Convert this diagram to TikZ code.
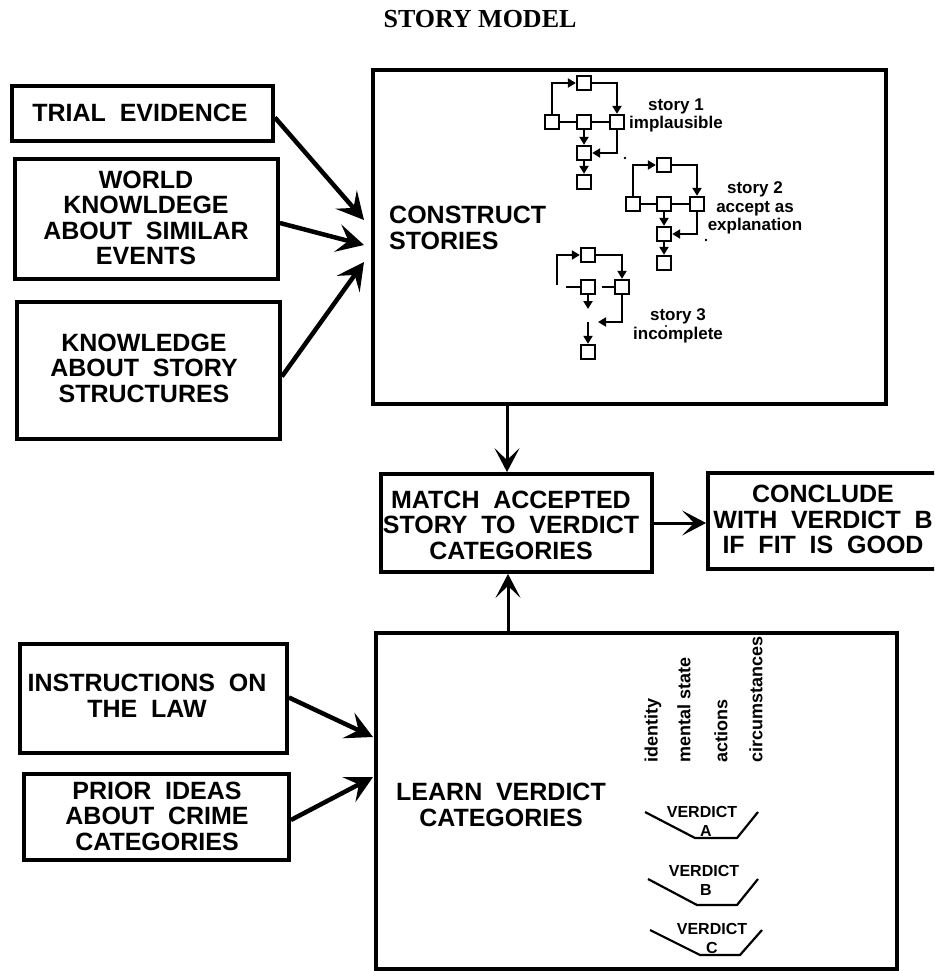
\documentclass[tikz,border=0pt]{standalone}
\usepackage{fontspec}
\setmainfont{Liberation Sans}
\newfontfamily\titlefamily{Liberation Serif}
\usetikzlibrary{arrows.meta}
\newcommand\fbig{\fontsize{25}{25.5}\selectfont\bfseries\spaceskip=0.55em\relax}
\newcommand\fstory{\fontsize{17}{18.5}\selectfont\bfseries}
\newcommand\fverd{\fontsize{16}{19}\selectfont\bfseries}
\newcommand\frot{\fontsize{18}{20}\selectfont\bfseries}
\newcommand\ftitle{\titlefamily\fontsize{26}{28}\selectfont\bfseries}
\begin{document}
\begin{tikzpicture}[x=1pt,y=-1pt,
  box/.style={draw, line width=3.8pt, inner sep=0pt},
  bigtext/.style={font=\fbig, align=center, inner sep=0pt},
  flow/.style={line width=4.5pt, -{Stealth[length=27pt,width=28pt,inset=11pt]}},
  vflow/.style={line width=3pt, -{Stealth[length=24pt,width=25pt,inset=12pt]}},
  sq/.style={draw, line width=2.3pt, minimum size=14pt, inner sep=0pt},
  slink/.style={line width=2pt},
  sarr/.style={line width=2pt, -{Triangle[length=8pt,width=9pt]}},
  slabel/.style={font=\fstory, align=center, inner sep=0pt},
  vlabel/.style={font=\frot, rotate=90, anchor=west, inner sep=0pt},
  vtext/.style={font=\fverd, inner sep=0pt},
  bowl/.style={line width=2.2pt, line join=round}
]
\clip (0,0) rectangle (934,971);
\fill[white] (0,0) rectangle (934,971);

% title
\node[font=\ftitle, inner sep=0pt] (title) at (480,19) {STORY MODEL};

% boxes
\node[box, minimum width=261pt, minimum height=55pt]  (trial)     at (142.5,113.5) {};
\node[box, minimum width=263pt, minimum height=120pt] (world)     at (146.5,219) {};
\node[box, minimum width=263pt, minimum height=137pt] (knowledge) at (148.5,370.5) {};
\node[box, minimum width=513pt, minimum height=334pt] (construct) at (629.5,237) {};
\node[box, minimum width=271pt, minimum height=98pt]  (match)     at (516.5,523) {};
\node[box, minimum width=237pt, minimum height=96pt]  (conclude)  at (826.5,521) {};
\node[box, minimum width=521pt, minimum height=336pt] (learn)     at (636.5,801) {};
\node[box, minimum width=267pt, minimum height=109pt] (instr)     at (153.5,698.5) {};
\node[box, minimum width=265pt, minimum height=86pt]  (prior)     at (156.5,817) {};

% box texts
\node[bigtext] (ttrial) at (140,113) {TRIAL EVIDENCE};
\node[bigtext] (tworld) at (146,218) {WORLD\\KNOWLDEGE\\ABOUT SIMILAR\\EVENTS};
\node[bigtext] (tknow) at (144,368) {KNOWLEDGE\\ABOUT STORY\\STRUCTURES};
\node[bigtext, align=left, anchor=west] (tconstruct) at (389,228) {CONSTRUCT\\STORIES};
\node[bigtext] (tmatch) at (511,525) {MATCH ACCEPTED\\STORY TO VERDICT\\CATEGORIES};
\node[bigtext] (tconclude) at (823,519.5) {CONCLUDE\\WITH VERDICT B\\IF FIT IS GOOD};
\node[bigtext] (tinstr) at (147,696) {INSTRUCTIONS ON\\THE LAW};
\node[bigtext] (tprior) at (157,816) {PRIOR IDEAS\\ABOUT CRIME\\CATEGORIES};
\node[bigtext] (tlearn) at (501,805) {LEARN VERDICT\\CATEGORIES};

% input arrows
\coordinate (inA) at (364,220);
\coordinate (inB) at (364,245);
\coordinate (inC) at (364,262);
\coordinate (inD) at (373,737);
\coordinate (inE) at (373,777);
\draw[flow] ([yshift=-4pt]trial.east) -- (inA);
\draw[flow] ([yshift=-4pt]world.east) -- (inB);
\draw[flow] ([yshift=-6pt]knowledge.east) -- (inC);
\draw[flow] ([yshift=1pt]instr.east) -- (inD);
\draw[flow] ([yshift=-3pt]prior.east) -- (inE);

\draw[vflow] (construct.south -| 507,0) -- (match.north -| 507,0);
\draw[vflow] (learn.north -| 508,0) -- (match.south -| 508,0);
\draw[vflow] (match.east) -- (match.east -| conclude.west);

% story 1
\node[sq] (T1) at (584,83) {};
\node[sq] (L1) at (552,122) {};
\node[sq] (M1) at (584,122) {};
\node[sq] (R1) at (617,122) {};
\node[sq] (W1) at (584,153) {};
\node[sq] (B1) at (584,182) {};
\draw[sarr] (L1.north) |- (T1.west);
\draw[sarr] (T1.east) -| (R1.north);
\draw[slink] (L1) -- (M1);
\draw[slink] (M1) -- (R1);
\draw[sarr] (M1) -- (W1);
\draw[sarr] (R1.south) |- (W1.east);
\draw[sarr] (W1) -- (B1);
\node[slabel] (lab1) at (676,115.5) {story 1\\implausible};

% story 2
\node[sq] (T2) at (664,165) {};
\node[sq] (L2) at (633,204) {};
\node[sq] (M2) at (664,204) {};
\node[sq] (R2) at (697,204) {};
\node[sq] (W2) at (664,234) {};
\node[sq] (B2) at (664,263) {};
\draw[sarr] (L2.north) |- (T2.west);
\draw[sarr] (T2.east) -| (R2.north);
\draw[slink] (L2) -- (M2);
\draw[slink] (M2) -- (R2);
\draw[sarr] (M2) -- (W2);
\draw[sarr] (R2.south) |- (W2.east);
\draw[sarr] (W2) -- (B2);
\node[slabel] (lab2) at (755,208) {story 2\\accept as\\explanation};

% story 3
\node[sq] (T3) at (588,255) {};
\node[sq] (M3) at (588,287) {};
\node[sq] (R3) at (622,287) {};
\node[sq] (B3) at (588,352) {};
\coordinate (s3a) at (557,285);
\coordinate (s3b) at (566,287);
\coordinate (s3c) at (602,287);
\coordinate (s3d) at (588,309);
\coordinate (s3e) at (598,322);
\coordinate (s3f) at (588,322);
\draw[sarr] (s3a) |- (T3.west);
\draw[sarr] (T3.east) -| (R3.north);
\draw[slink] (s3b) -- (M3.west);
\draw[slink] (s3c) -- (R3.west);
\draw[sarr] (M3.south) -- (s3d);
\draw[sarr] (R3.south) |- (s3e);
\draw[sarr] (s3f) -- (B3.north);
\node[slabel] (lab3) at (678,326) {story 3\\incomplete};

% stray dots
\fill (625,158) circle [radius=1.3pt];
\fill (706,240) circle [radius=1.3pt];
\fill (666,326) circle [radius=1.1pt];

% verdict categories
\node[vlabel] (vid) at (653,763) {identity};
\node[vlabel] (vms) at (684,763) {mental state};
\node[vlabel] (vac) at (721,763) {actions};
\node[vlabel] (vci) at (756,763) {circumstances};

\draw[bowl] (645,812) -- (695,838) -- (737,838) -- (758,812);
\node[vtext] (va1) at (702,812) {VERDICT};
\node[vtext] (va2) at (706,831) {A};
\draw[bowl] (648,879) -- (697,905) -- (737,905) -- (758,879);
\node[vtext] (vb1) at (704,871) {VERDICT};
\node[vtext] (vb2) at (706,890) {B};
\draw[bowl] (650,930) -- (700,955) -- (740,955) -- (762,930);
\node[vtext] (vc1) at (712,929) {VERDICT};
\node[vtext] (vc2) at (712,948) {C};
\end{tikzpicture}
\end{document}
